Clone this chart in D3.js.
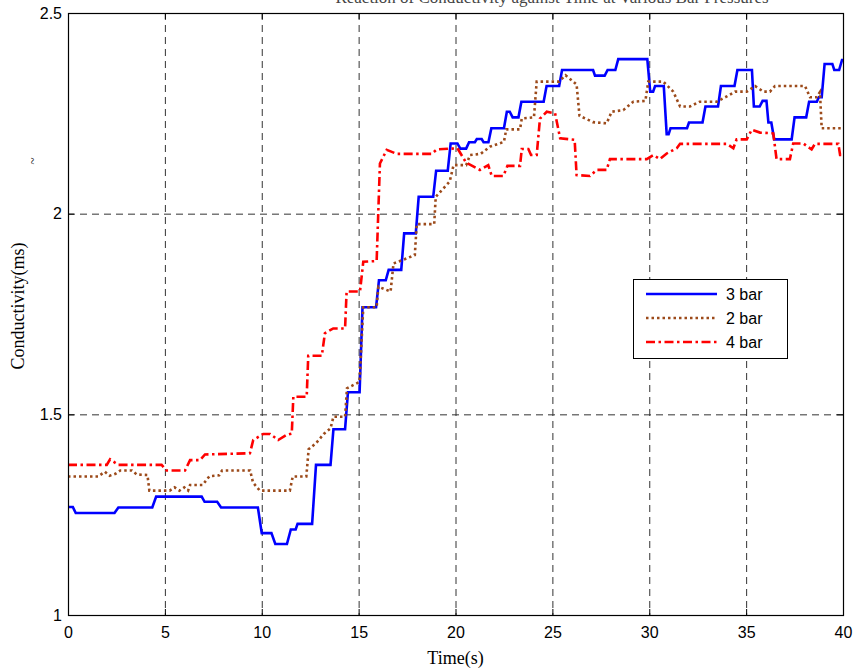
<!DOCTYPE html>
<html>
<head>
<meta charset="utf-8">
<script src="https://cdn.jsdelivr.net/npm/d3@7/dist/d3.min.js"></script>
<style>
  body { margin: 0; background: #fff; }
  svg { display: block; }
</style>
</head>
<body>
<div id="chart"></div>
<script>
// tick values and legend labels
const xTicks = [0, 5, 10, 15, 20, 25, 30, 35, 40]
const yTicks = [1, 1.5, 2, 2.5]
const seriesNames = ["3 bar", "2 bar", "4 bar"]

// [time (s), conductivity (ms)]
const bar3 = [[0,1.269],[0.25,1.269],[0.4,1.254],[2.4,1.254],[2.6,1.268],[4.35,1.268],[4.55,1.295],[6.9,1.295],
  [7.05,1.282],[7.7,1.282],[7.9,1.268],[9.8,1.268],[10.0,1.204],[10.5,1.204],[10.7,1.177],[11.3,1.177],
  [11.5,1.213],[11.75,1.213],[11.85,1.227],[12.6,1.227],[12.8,1.374],[13.55,1.374],[13.7,1.463],[14.3,1.463],
  [14.45,1.555],[15.05,1.555],[15.2,1.767],[15.9,1.767],[16.05,1.834],[16.4,1.834],[16.55,1.86],[17.2,1.86],
  [17.35,1.951],[17.95,1.951],[18.1,2.042],[18.85,2.042],[19.0,2.107],[19.6,2.107],[19.75,2.175],[20.1,2.175],
  [20.25,2.162],[20.55,2.162],[20.7,2.178],[21.0,2.178],[21.1,2.186],[21.35,2.186],[21.45,2.178],[21.7,2.178],
  [21.85,2.213],[22.5,2.213],[22.65,2.254],[22.8,2.254],[22.95,2.24],[23.25,2.24],[23.4,2.279],[24.55,2.279],
  [24.7,2.318],[25.35,2.318],[25.5,2.358],[27.1,2.358],[27.2,2.344],[27.7,2.344],[27.85,2.358],[28.25,2.358],
  [28.4,2.385],[29.9,2.385],[30.05,2.304],[30.2,2.304],[30.3,2.318],[30.75,2.318],[30.9,2.198],[31.0,2.198],
  [31.1,2.213],[31.95,2.213],[32.05,2.227],[32.75,2.227],[32.9,2.267],[33.55,2.267],[33.7,2.318],[34.4,2.318],
  [34.55,2.358],[35.3,2.358],[35.4,2.267],[35.7,2.267],[35.85,2.281],[36.05,2.281],[36.15,2.227],[36.3,2.227],
  [36.45,2.185],[37.35,2.185],[37.5,2.24],[38.1,2.24],[38.25,2.279],[38.65,2.279],[38.75,2.29],[38.9,2.29],
  [39.05,2.373],[39.45,2.373],[39.55,2.358],[39.8,2.358],[39.95,2.383],[40,2.383]]

const bar2 = [[0,1.345],[1.55,1.345],[1.9,1.357],[2.15,1.347],[2.45,1.352],[2.7,1.36],[3.3,1.36],[3.55,1.35],
  [4.1,1.349],[4.2,1.31],[5.25,1.31],[5.5,1.318],[5.75,1.31],[6.0,1.318],[6.2,1.31],[6.3,1.324],[6.95,1.324],
  [7.3,1.346],[7.8,1.348],[7.95,1.36],[9.4,1.36],[9.55,1.33],[9.9,1.31],[11.45,1.31],[11.6,1.345],[12.3,1.345],
  [12.42,1.413],[12.8,1.428],[13.2,1.451],[13.55,1.465],[13.7,1.494],[14.3,1.494],[14.4,1.565],[15.05,1.581],
  [15.24,1.767],[15.93,1.767],[16.02,1.818],[16.65,1.806],[16.8,1.876],[17.3,1.885],[17.9,1.897],[18.0,1.974],
  [18.9,1.974],[18.98,2.042],[19.7,2.08],[19.9,2.121],[20.55,2.121],[20.75,2.146],[21.3,2.149],[21.78,2.167],
  [22.5,2.179],[22.62,2.21],[23.33,2.21],[23.42,2.237],[24.05,2.24],[24.19,2.329],[25.35,2.329],[25.68,2.345],
  [26.25,2.322],[26.4,2.244],[27.1,2.228],[27.8,2.225],[28.06,2.254],[28.66,2.258],[29.18,2.279],[29.8,2.281],
  [29.95,2.329],[30.72,2.329],[31.24,2.304],[31.59,2.267],[32.1,2.267],[32.6,2.279],[33.48,2.279],[34.0,2.292],
  [34.43,2.304],[35.03,2.304],[35.46,2.318],[35.89,2.304],[36.23,2.304],[36.49,2.318],[38.04,2.318],[38.3,2.29],
  [38.64,2.29],[38.81,2.303],[38.9,2.213],[40,2.213]]

const bar4 = [[0,1.374],[2.0,1.374],[2.17,1.388],[2.6,1.374],[4.83,1.374],[5.09,1.36],[6.04,1.36],[6.3,1.386],
  [6.81,1.386],[7.07,1.4],[9.39,1.403],[9.56,1.436],[10.08,1.451],[10.43,1.451],[10.85,1.436],[11.29,1.449],
  [11.55,1.452],[11.63,1.544],[12.32,1.544],[12.4,1.646],[13.1,1.646],[13.26,1.702],[13.69,1.714],[14.3,1.714],
  [14.38,1.806],[15.07,1.806],[15.24,1.88],[15.93,1.882],[16.1,2.125],[16.45,2.159],[16.97,2.149],[18.77,2.149],
  [19.03,2.16],[20.1,2.163],[20.55,2.127],[21.26,2.109],[21.69,2.121],[21.87,2.094],[22.47,2.094],[22.68,2.119],
  [23.33,2.119],[23.42,2.161],[23.76,2.161],[23.9,2.146],[24.19,2.146],[24.36,2.237],[24.71,2.254],[25.14,2.25],
  [25.4,2.188],[26.15,2.184],[26.25,2.096],[26.94,2.094],[27.29,2.109],[27.8,2.109],[27.97,2.136],[29.87,2.136],
  [30.21,2.146],[30.55,2.136],[30.9,2.15],[31.42,2.163],[31.59,2.174],[34.0,2.174],[34.34,2.163],[34.51,2.185],
  [35.03,2.185],[35.29,2.209],[35.72,2.202],[36.4,2.2],[36.57,2.136],[37.26,2.136],[37.43,2.175],[37.95,2.175],
  [38.38,2.16],[38.55,2.174],[39.76,2.174],[39.85,2.146],[40,2.146]]

const width = 854, height = 671
const margin = { top: 13, right: 11, bottom: 56, left: 68 }
const plotW = width - margin.left - margin.right
const plotH = height - margin.top - margin.bottom

const styles = [
  { color: "#0000ff", dash: null },
  { color: "#9c4a1a", dash: "2.5,3" },
  { color: "#ff0000", dash: "9,3.5,2.5,3.5" }
]
const allSeries = [bar3, bar2, bar4]

const svg = d3.select("#chart").append("svg")
  .attr("width", width)
  .attr("height", height)

const x = d3.scaleLinear().domain([0, 40]).range([margin.left, margin.left + plotW])
const y = d3.scaleLinear().domain([1, 2.5]).range([margin.top + plotH, margin.top])

// title, cut off by the top edge as in the original figure
svg.append("text")
  .attr("x", 552)
  .attr("y", 2.5)
  .attr("text-anchor", "middle")
  .attr("fill", "#444")
  .style("font-family", "'Liberation Serif', serif")
  .style("font-size", "17px")
  .text("Reaction of Conductivity against Time at Various Bar Pressures")

// dashed grid
const grid = svg.append("g")
  .attr("stroke", "#333")
  .attr("stroke-width", 1)
  .attr("stroke-dasharray", "7,5")
grid.selectAll("line.vx")
  .data(xTicks.slice(1, -1))
  .join("line")
  .attr("class", "vx")
  .attr("x1", d => x(d) + 0.5).attr("x2", d => x(d) + 0.5)
  .attr("y1", margin.top).attr("y2", margin.top + plotH)
grid.selectAll("line.hy")
  .data(yTicks.slice(1, -1))
  .join("line")
  .attr("class", "hy")
  .attr("x1", margin.left).attr("x2", margin.left + plotW)
  .attr("y1", d => y(d) + 0.5).attr("y2", d => y(d) + 0.5)

svg.append("clipPath").attr("id", "clip")
  .append("rect")
  .attr("x", margin.left).attr("y", margin.top)
  .attr("width", plotW).attr("height", plotH)

const line = d3.line().x(d => x(d[0])).y(d => y(d[1]))

svg.append("g")
  .attr("clip-path", "url(#clip)")
  .selectAll("path")
  .data(allSeries)
  .join("path")
  .attr("fill", "none")
  .attr("stroke", (d, i) => styles[i].color)
  .attr("stroke-width", 2.6)
  .attr("stroke-dasharray", (d, i) => styles[i].dash)
  .attr("d", line)

// axes, ticks pointing inward
const axisFont = g => g.selectAll("text")
  .style("font-family", "'Liberation Sans', Arial, sans-serif")
  .style("font-size", "16px")
  .attr("fill", "#000")

svg.append("g")
  .attr("transform", `translate(0,${margin.top + plotH})`)
  .call(d3.axisBottom(x).tickValues(xTicks).tickFormat(d3.format("d")).tickSize(-6).tickPadding(12))
  .call(g => g.select(".domain").remove())
  .call(axisFont)

svg.append("g")
  .attr("transform", `translate(${margin.left},0)`)
  .call(d3.axisLeft(y).tickValues(yTicks).tickFormat(d => d).tickSize(-6).tickPadding(6))
  .call(g => g.select(".domain").remove())
  .call(axisFont)

svg.append("g")
  .attr("transform", `translate(0,${margin.top})`)
  .call(d3.axisTop(x).tickValues(xTicks).tickFormat("").tickSize(-6))
  .call(g => g.select(".domain").remove())

svg.append("g")
  .attr("transform", `translate(${margin.left + plotW},0)`)
  .call(d3.axisRight(y).tickValues(yTicks).tickFormat("").tickSize(-6))
  .call(g => g.select(".domain").remove())

svg.append("rect")
  .attr("x", margin.left + 0.5).attr("y", margin.top + 0.5)
  .attr("width", plotW).attr("height", plotH)
  .attr("fill", "none")
  .attr("stroke", "#000")
  .attr("stroke-width", 1.2)

// axis labels
svg.append("text")
  .attr("x", margin.left + plotW / 2)
  .attr("y", 664)
  .attr("text-anchor", "middle")
  .style("font-family", "'Liberation Serif', serif")
  .style("font-size", "18px")
  .text("Time(s)")

svg.append("text")
  .attr("transform", "translate(24,306) rotate(-90)")
  .attr("text-anchor", "middle")
  .style("font-family", "'Liberation Serif', serif")
  .style("font-size", "18px")
  .text("Conductivity(ms)")

// small stray mark left of the axis
svg.append("text")
  .attr("transform", "translate(37,161) rotate(-90)")
  .attr("text-anchor", "middle")
  .style("font-family", "'Liberation Serif', serif")
  .style("font-size", "13px")
  .text("~")

// legend
const legend = svg.append("g").attr("transform", "translate(633,279)")
legend.append("rect")
  .attr("x", 0.5).attr("y", 0.5)
  .attr("width", 154).attr("height", 79)
  .attr("fill", "#fff")
  .attr("stroke", "#000")

const rows = legend.selectAll("g.row")
  .data(seriesNames)
  .join("g")
  .attr("class", "row")
  .attr("transform", (d, i) => `translate(0,${15 + i * 24})`)
rows.append("line")
  .attr("x1", 13).attr("x2", 84)
  .attr("stroke", (d, i) => styles[i].color)
  .attr("stroke-width", 2.6)
  .attr("stroke-dasharray", (d, i) => styles[i].dash)
rows.append("text")
  .attr("x", 93)
  .attr("dy", "0.36em")
  .style("font-family", "'Liberation Sans', Arial, sans-serif")
  .style("font-size", "16px")
  .text(d => d)
</script>
</body>
</html>
